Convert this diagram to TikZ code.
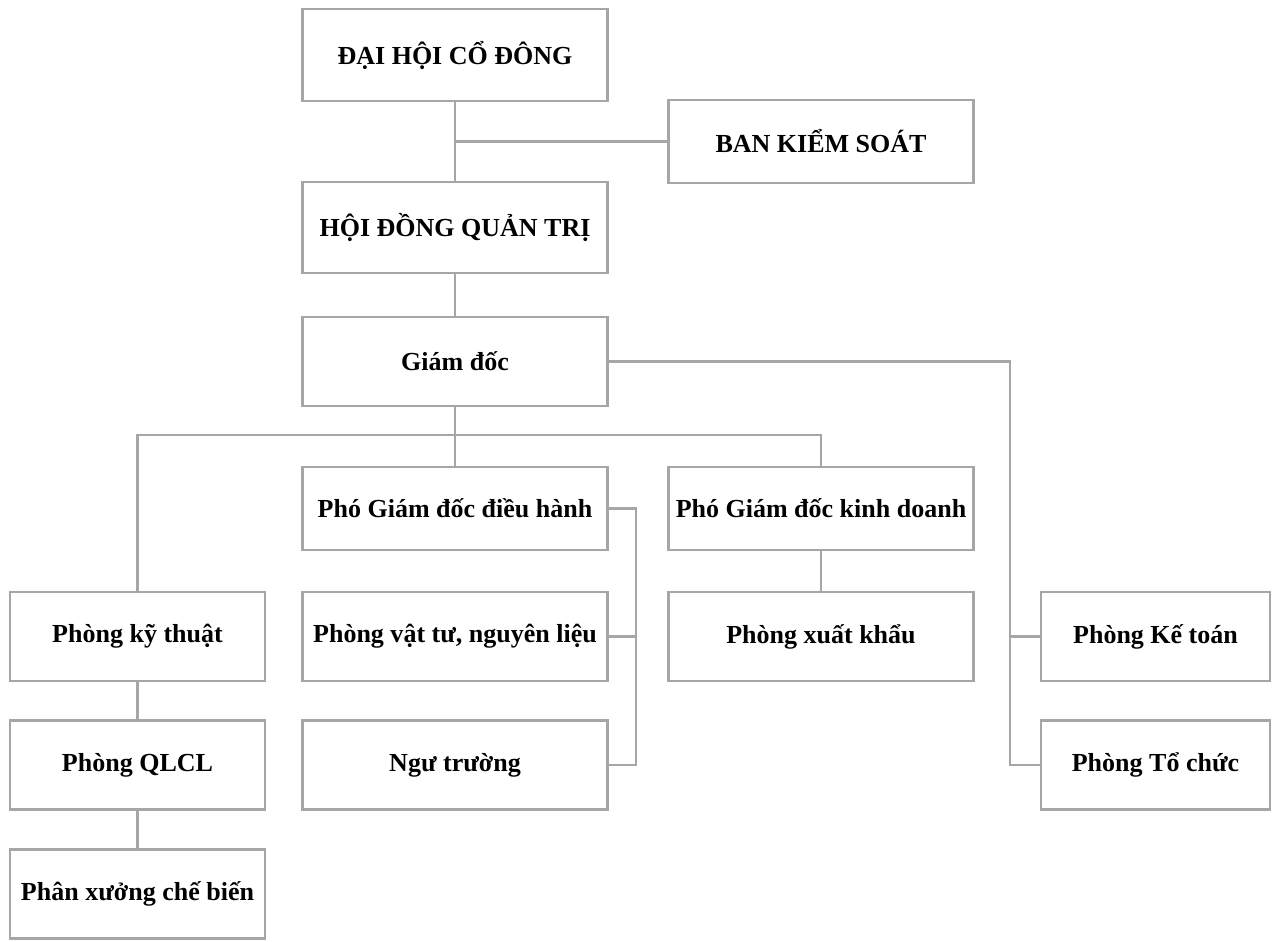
\documentclass[tikz,border=0pt]{standalone}
\usepackage{fontspec}
\setmainfont{Liberation Serif}
\usepackage{tikz}
\usetikzlibrary{calc}
\definecolor{linegray}{HTML}{A6A6A6}

\begin{document}
\begin{tikzpicture}[x=0.02cm, y=-0.02cm,
    unit/.style={draw=linegray, line width=1.6pt, minimum width=6.1cm, minimum height=1.78cm,
      inner sep=0pt, font=\fontsize{14.8}{17}\selectfont\bfseries},
    narrow/.style={unit, minimum width=5.1cm},
    side/.style={unit, minimum width=4.58cm},
    link/.style={draw=linegray, line width=1.6pt}]
      \useasboundingbox (0, 0) rectangle (1272, 941);
      \node[unit, minimum height=1.84cm] (dhcd) at (455, 55) {ĐẠI HỘI CỔ ĐÔNG};
      \node[unit, minimum height=1.66cm] (bks) at (821, 141.5) {BAN KIỂM SOÁT};
      \node[unit, minimum height=1.82cm] (hdqt) at (455, 227.5) {HỘI ĐỒNG QUẢN TRỊ};
      \node[unit] (gd) at (455, 361.5) {Giám đốc};
      \node[unit, minimum height=1.66cm] (pgddh) at (455, 508.5) {Phó Giám đốc điều hành};
      \node[unit, minimum height=1.66cm] (pgdkd) at (821, 508.5) {Phó Giám đốc kinh doanh};
      \node[narrow] (pkt) at (137.5, 636.5) {Phòng kỹ thuật};
      \node[narrow] (qlcl) at (137.5, 765) {Phòng QLCL};
      \node[narrow] (pxcb) at (137.5, 894) {Phân xưởng chế biến};
      \node[unit] (pvt) at (455, 636.5) {Phòng vật tư, nguyên liệu};
      \node[unit] (ngu) at (455, 765) {Ngư trường};
      \node[unit] (pxk) at (821, 636.5) {Phòng xuất khẩu};
      \node[side] (pkto) at (1155.5, 636.5) {Phòng Kế toán};
      \node[side] (ptc) at (1155.5, 765) {Phòng Tổ chức};
      \coordinate (bus) at (455, 435);
      \coordinate (rtrunk) at (1010, 361.5);
      \coordinate (dtrunk) at (636, 508.5);
      % upper part
      \draw[link] (dhcd.south) -- (hdqt.north);
      \draw[link] (dhcd.south |- bks.west) -- (bks.west);
      \draw[link] (hdqt.south) -- (gd.north);
      % giam doc
      \draw[link] (gd.east) -- (rtrunk) |- (ptc.west);
      \draw[link] (rtrunk |- pkto.west) -- (pkto.west);
      \draw[link] (gd.south) -- (pgddh.north);
      \draw[link] (pkt.north) |- (pgdkd.north |- bus) -- (pgdkd.north);
      % pho giam doc
      \draw[link] (pgddh.east) -- (dtrunk) |- (ngu.east);
      \draw[link] (dtrunk |- pvt.east) -- (pvt.east);
      \draw[link] (pgdkd.south) -- (pxk.north);
      \draw[link] (pkt.south) -- (qlcl.north);
      \draw[link] (qlcl.south) -- (pxcb.north);
\end{tikzpicture}
\end{document}
